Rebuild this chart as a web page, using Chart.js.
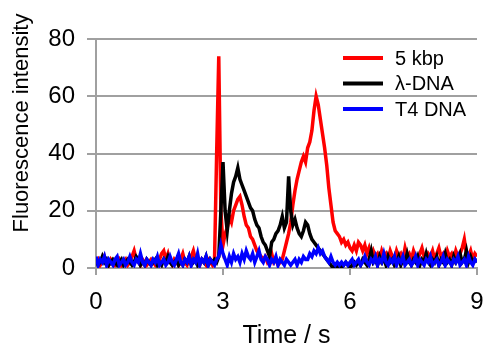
<!DOCTYPE html>
<html>
<head>
<meta charset="utf-8">
<script src="https://cdn.jsdelivr.net/npm/chart.js@4/dist/chart.umd.min.js"></script>
<style>
  html, body { margin: 0; padding: 0; background: #fff; }
  #wrap { width: 483px; height: 346px; position: relative; }
</style>
</head>
<body>
<div id="wrap"><canvas id="fluoChart"></canvas></div>
<script>
// samples every 0.05 s from 0 to 9 s
const startTime = 0;
const sampleStep = 0.05;

const seriesNames = ['5 kbp', '\u03bb-DNA', 'T4 DNA'];
const seriesColors = ['#ff0000', '#000000', '#0000ff'];
const xTicks = [0, 3, 6, 9];
const yTicks = [0, 20, 40, 60, 80];

// 5 kbp (red)
const kbp5 = [
  2, 3, 1, 2, 4, 2, 1, 3, 2, 1, 2, 3, 1, 2, 3, 1, 2, 4, 6, 3,
  2, 1, 3, 2, 1, 2, 3, 2, 1, 2, 3, 5, 6, 3, 5, 2, 1, 3, 2, 1,
  3, 5, 2, 1, 3, 4, 6, 3, 2, 1, 3, 2, 1, 3, 2, 1, 3, 40, 74, 20,
  8, 12, 14, 18, 16, 20, 22, 24, 25, 22, 18, 15, 14, 11, 10, 8, 6, 5, 4, 3,
  4, 2, 3, 5, 2, 3, 1, 2, 3, 6, 9, 12, 16, 22, 27, 31, 34, 37, 39, 37,
  42, 44, 48, 55, 60, 57, 52, 47, 42, 36, 28, 22, 16, 13, 12, 11, 9, 10, 8, 9,
  7, 6, 8, 6, 9, 8, 6, 8, 5, 7, 4, 6, 4, 5, 3, 6, 4, 5, 3, 6,
  4, 3, 6, 4, 5, 3, 7, 4, 5, 3, 6, 4, 3, 5, 7, 4, 3, 5, 4, 6,
  3, 5, 7, 4, 5, 3, 6, 4, 5, 3, 6, 4, 5, 7, 10, 5, 4, 6, 3, 5,
  4
];

// lambda-DNA (black)
const lambdaDNA = [
  3, 1, 2, 4, 2, 3, 1, 2, 3, 2, 1, 2, 3, 1, 2, 3, 2, 1, 2, 4,
  3, 1, 2, 1, 3, 2, 1, 2, 3, 1, 2, 1, 3, 2, 4, 2, 1, 2, 3, 1,
  2, 1, 3, 2, 4, 1, 2, 3, 1, 2, 3, 2, 4, 1, 3, 2, 3, 2, 4, 20,
  37, 20, 13, 20, 26, 30, 32, 35, 31, 29, 27, 25, 23, 21, 20, 17, 15, 14, 11, 9,
  8, 6, 4, 9, 10, 12, 13, 15, 18, 14, 16, 32, 20, 15, 17, 14, 12, 11, 13, 16,
  15, 12, 10, 9, 8, 7, 6, 5, 4, 3, 2, 1, 0, 1, 0, 1, 0, 1, 2, 1,
  0, 1, 2, 1, 2, 1, 3, 2, 1, 3, 6, 2, 3, 1, 4, 2, 3, 1, 4, 2,
  3, 1, 2, 4, 1, 3, 2, 5, 2, 1, 3, 2, 4, 1, 3, 2, 5, 2, 1, 3,
  2, 4, 1, 3, 2, 5, 2, 3, 1, 4, 2, 3, 5, 2, 3, 6, 2, 4, 2, 3,
  2
];

// T4 DNA (blue)
const t4DNA = [
  4, 1, 3, 2, 4, 1, 3, 2, 1, 3, 4, 1, 2, 3, 1, 2, 4, 2, 1, 3,
  2, 5, 2, 1, 3, 2, 1, 3, 2, 4, 1, 2, 3, 1, 2, 4, 2, 1, 3, 5,
  2, 1, 3, 2, 4, 1, 3, 2, 5, 1, 3, 2, 4, 1, 3, 2, 1, 3, 4, 8,
  5, 3, 1, 4, 2, 5, 3, 4, 2, 5, 3, 6, 4, 3, 5, 2, 4, 6, 3, 2,
  4, 3, 1, 3, 2, 4, 1, 3, 2, 1, 3, 2, 1, 2, 3, 1, 3, 2, 4, 3,
  3, 5, 4, 6, 5, 7, 5, 6, 4, 3, 2, 4, 2, 1, 2, 1, 2, 1, 2, 1,
  2, 3, 1, 2, 3, 1, 2, 4, 2, 1, 3, 2, 4, 1, 3, 2, 5, 2, 1, 3,
  2, 4, 1, 3, 2, 4, 1, 2, 3, 1, 2, 4, 1, 3, 2, 1, 3, 2, 4, 1,
  2, 3, 1, 2, 4, 1, 3, 2, 1, 3, 2, 4, 1, 2, 3, 1, 4, 2, 1, 3,
  2
];

function toPoints(values) {
  return values.map(function(v, i) {
    return { x: +(startTime + i * sampleStep).toFixed(2), y: v };
  });
}

const FONT = 'Liberation Sans, Arial, sans-serif';

// legend inside plot + axis titles
const decorPlugin = {
  id: 'decor',
  afterDraw: function(chart) {
    const ctx = chart.ctx;
    const area = chart.chartArea;
    ctx.save();
    ctx.fillStyle = '#000';
    ctx.textAlign = 'center';
    ctx.textBaseline = 'middle';
    ctx.font = '25px ' + FONT;
    ctx.fillText('Time / s', (area.left + area.right) / 2, 336);
    ctx.font = '22px ' + FONT;
    ctx.translate(22, 123);
    ctx.rotate(-Math.PI / 2);
    ctx.fillText('Fluorescence intensity', 0, 0);
    ctx.restore();

    ctx.save();
    ctx.font = '20px ' + FONT;
    ctx.textAlign = 'left';
    ctx.textBaseline = 'middle';
    seriesNames.forEach(function(name, i) {
      const y = 58 + i * 25.5;
      ctx.strokeStyle = seriesColors[i];
      ctx.lineWidth = 4;
      ctx.beginPath();
      ctx.moveTo(343, y);
      ctx.lineTo(383, y);
      ctx.stroke();
      ctx.fillStyle = '#000';
      ctx.fillText(name, 395, y + 1);
    });
    ctx.restore();
  }
};

const datasets = [kbp5, lambdaDNA, t4DNA].map(function(vals, i) {
  return {
    label: seriesNames[i],
    data: toPoints(vals),
    borderColor: seriesColors[i],
    backgroundColor: seriesColors[i],
    borderWidth: 3.5,
    pointRadius: 0,
    tension: 0,
    order: 2 - i
  };
});

new Chart(document.getElementById('fluoChart'), {
  type: 'line',
  data: { datasets: datasets },
  options: {
    responsive: true,
    maintainAspectRatio: false,
    animation: false,
    layout: { padding: { top: 39, right: 6, left: 0, bottom: 0 } },
    plugins: {
      legend: { display: false },
      tooltip: { enabled: false }
    },
    scales: {
      x: {
        type: 'linear',
        min: 0,
        max: 9,
        afterBuildTicks: function(axis) {
          axis.ticks = xTicks.map(function(v) { return { value: v }; });
        },
        afterFit: function(axis) {
          axis.height = 78;
          axis.paddingLeft = 0;
          axis.paddingRight = 0;
        },
        grid: { drawOnChartArea: false, drawTicks: true, tickLength: 7, color: '#a0a0a0', lineWidth: 2 },
        border: { color: '#a0a0a0', width: 2 },
        ticks: { color: '#000', font: { size: 24, family: FONT }, padding: 13, maxRotation: 0 }
      },
      y: {
        min: 0,
        max: 80,
        afterBuildTicks: function(axis) {
          axis.ticks = yTicks.map(function(v) { return { value: v }; });
        },
        afterFit: function(axis) {
          axis.width = 96;
          axis.paddingTop = 0;
          axis.paddingBottom = 0;
        },
        grid: { drawTicks: true, tickLength: 9, color: '#a0a0a0', lineWidth: 2 },
        border: { color: '#a0a0a0', width: 2 },
        ticks: { color: '#000', font: { size: 24, family: FONT }, padding: 12 }
      }
    }
  },
  plugins: [decorPlugin]
});
</script>
</body>
</html>
